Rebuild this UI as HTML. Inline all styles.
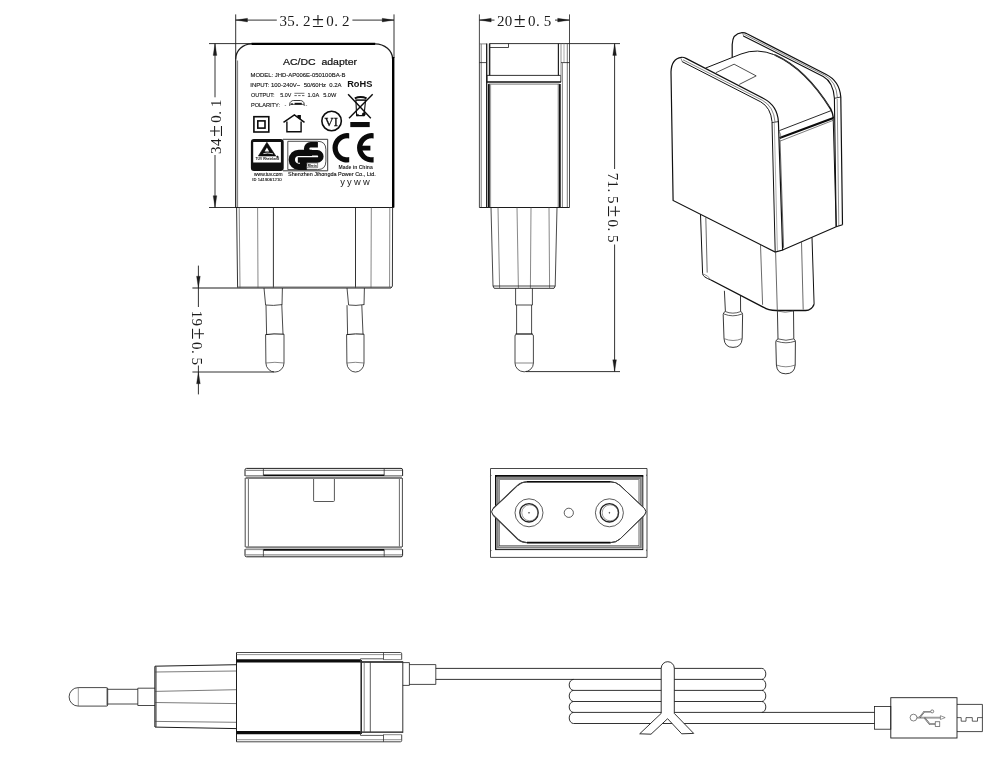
<!DOCTYPE html>
<html lang="en"><head><meta charset="utf-8"><title>AC/DC adapter drawing</title>
<style>
html,body{margin:0;padding:0;background:#fff;}
body{width:1000px;height:779px;overflow:hidden;font-family:"Liberation Sans",sans-serif;}
svg{display:block;will-change:transform;}
svg line,svg path,svg rect,svg circle{stroke-linecap:butt;stroke-linejoin:miter;}
</style></head><body>
<svg width="1000" height="779" viewBox="0 0 1000 779">
<rect x="0" y="0" width="1000" height="779" fill="#fff" stroke="none"/>
<line x1="235.7" y1="14.4" x2="235.7" y2="59" stroke="#1c1c1c" stroke-width="0.9"/>
<line x1="394" y1="14.4" x2="394" y2="58" stroke="#1c1c1c" stroke-width="0.9"/>
<line x1="235.7" y1="20.1" x2="276.8" y2="20.1" stroke="#1c1c1c" stroke-width="0.9"/>
<line x1="352.4" y1="20.1" x2="394" y2="20.1" stroke="#1c1c1c" stroke-width="0.9"/>
<path d="M235.7,20.1 L247.5,18.25 L247.5,21.95 Z" fill="#1c1c1c" stroke="#1c1c1c" stroke-width="0.3"/>
<path d="M394,20.1 L382.2,21.95 L382.2,18.25 Z" fill="#1c1c1c" stroke="#1c1c1c" stroke-width="0.3"/>
<text transform="translate(279.2,26.4) rotate(0)" x="0.3 8.1 16.1 23.7 32.8 47.1 55.1 62.7" y="0" font-family='"Liberation Serif", serif' font-size="15" fill="#1c1c1c">35.2<tspan font-size="21.8" dy="0.6">±</tspan><tspan dy="-0.6">0.2</tspan></text>
<line x1="209" y1="43.6" x2="252" y2="43.6" stroke="#1c1c1c" stroke-width="0.9"/>
<line x1="209" y1="207.5" x2="236" y2="207.5" stroke="#1c1c1c" stroke-width="0.9"/>
<line x1="215" y1="43.6" x2="215" y2="97.3" stroke="#1c1c1c" stroke-width="0.9"/>
<line x1="215" y1="155" x2="215" y2="207.5" stroke="#1c1c1c" stroke-width="0.9"/>
<path d="M215,43.6 L216.85,55.4 L213.15,55.4 Z" fill="#1c1c1c" stroke="#1c1c1c" stroke-width="0.3"/>
<path d="M215,207.5 L213.15,195.7 L216.85,195.7 Z" fill="#1c1c1c" stroke="#1c1c1c" stroke-width="0.3"/>
<text transform="translate(221.2,154.2) rotate(-90)" x="0.3 8.1 17.2 31.5 39.5 47.1" y="0" font-family='"Liberation Serif", serif' font-size="15" fill="#1c1c1c">34<tspan font-size="21.8" dy="0.6">±</tspan><tspan dy="-0.6">0.1</tspan></text>
<path d="M235.7,207.5 V59 A16,15.2 0 0 1 251.7,43.8" fill="none" stroke="#1c1c1c" stroke-width="1.2"/>
<path d="M251.5,43.9 H375.2" fill="none" stroke="#000" stroke-width="2.2"/>
<path d="M375,43.8 A17.6,15.2 0 0 1 392.6,59" fill="none" stroke="#1c1c1c" stroke-width="1.3"/>
<path d="M393.2,57 V207.5" fill="none" stroke="#000" stroke-width="2.4"/>
<line x1="237.6" y1="60.5" x2="237.6" y2="207.5" stroke="#555" stroke-width="0.8"/>
<line x1="235.7" y1="207.5" x2="393.8" y2="207.5" stroke="#1c1c1c" stroke-width="1.0"/>
<line x1="236.6" y1="207.5" x2="237.6" y2="287.6" stroke="#1c1c1c" stroke-width="0.9"/>
<line x1="239.2" y1="207.5" x2="240" y2="287.6" stroke="#555" stroke-width="0.7"/>
<line x1="257.6" y1="207.5" x2="258" y2="287.6" stroke="#555" stroke-width="0.7"/>
<line x1="273.4" y1="207.5" x2="273.4" y2="287.6" stroke="#1c1c1c" stroke-width="0.9"/>
<line x1="355.5" y1="207.5" x2="355.5" y2="287.6" stroke="#1c1c1c" stroke-width="0.9"/>
<line x1="371.3" y1="207.5" x2="371" y2="287.6" stroke="#555" stroke-width="0.7"/>
<line x1="389.8" y1="207.5" x2="389.6" y2="287" stroke="#555" stroke-width="0.7"/>
<line x1="392.6" y1="207.5" x2="392.4" y2="286" stroke="#1c1c1c" stroke-width="0.9"/>
<line x1="237.6" y1="287" x2="391" y2="287" stroke="#555" stroke-width="0.8"/>
<path d="M192.4,288 H391 L392.4,286" fill="none" stroke="#1c1c1c" stroke-width="1.0"/>
<path d="M264,288 L265.6,305 M282.4,288 L282,305" fill="none" stroke="#1c1c1c" stroke-width="0.8"/>
<path d="M265.6,305 Q273.2,306 282,304.6" fill="none" stroke="#1c1c1c" stroke-width="0.8"/>
<path d="M266,305.2 L266.6,334.4 M281.8,305 L283,334.2" fill="none" stroke="#1c1c1c" stroke-width="0.8"/>
<path d="M265.6,334.6 Q273.2,333.4 284,334.2" fill="none" stroke="#1c1c1c" stroke-width="1.0"/>
<path d="M265.6,334.6 L265.9,363 A9,9 0 0 0 284,363 L284,334.2" fill="none" stroke="#1c1c1c" stroke-width="0.8"/>
<path d="M265.9,363 Q274.8,361.6 284,363" fill="none" stroke="#555" stroke-width="0.7"/>
<path d="M347,288 L348.6,305 M364.4,288 L364,305" fill="none" stroke="#1c1c1c" stroke-width="0.8"/>
<path d="M348.6,305 Q355.7,306 364,304.6" fill="none" stroke="#1c1c1c" stroke-width="0.8"/>
<path d="M347,305.2 L347.6,334.4 M361.8,305 L363,334.2" fill="none" stroke="#1c1c1c" stroke-width="0.8"/>
<path d="M346.6,334.6 Q355.7,333.4 364,334.2" fill="none" stroke="#1c1c1c" stroke-width="1.0"/>
<path d="M346.6,334.6 L346.9,363 A8.5,9 0 0 0 364,363 L364,334.2" fill="none" stroke="#1c1c1c" stroke-width="0.8"/>
<path d="M346.9,363 Q355.3,361.6 364,363" fill="none" stroke="#555" stroke-width="0.7"/>
<line x1="198.4" y1="265.6" x2="198.4" y2="307" stroke="#1c1c1c" stroke-width="0.9"/>
<line x1="198.4" y1="365.5" x2="198.4" y2="394.4" stroke="#1c1c1c" stroke-width="0.9"/>
<path d="M198.4,288 L196.55,276.2 L200.25,276.2 Z" fill="#1c1c1c" stroke="#1c1c1c" stroke-width="0.3"/>
<path d="M198.4,372 L200.25,383.8 L196.55,383.8 Z" fill="#1c1c1c" stroke="#1c1c1c" stroke-width="0.3"/>
<line x1="192.4" y1="372" x2="274" y2="372" stroke="#1c1c1c" stroke-width="0.9"/>
<text transform="translate(192.2,310.5) rotate(90)" x="0.3 8.1 17.2 31.5 39.5 47.1" y="0" font-family='"Liberation Serif", serif' font-size="15" fill="#1c1c1c">19<tspan font-size="21.8" dy="0.6">±</tspan><tspan dy="-0.6">0.5</tspan></text>
<text x="282.9" y="65.1" font-family='"Liberation Sans", sans-serif' font-size="9.9" font-weight="normal" text-anchor="start" fill="#111" textLength="74.2" lengthAdjust="spacingAndGlyphs" stroke="#111" stroke-width="0.22">AC/DC&#160;&#160;adapter</text>
<text x="250.5" y="76.6" font-family='"Liberation Sans", sans-serif' font-size="5.3" font-weight="normal" text-anchor="start" fill="#151515" textLength="95" lengthAdjust="spacingAndGlyphs" stroke="#151515" stroke-width="0.12">MODEL: JHD-AP006E-050100BA-B</text>
<text x="250.3" y="86.7" font-family='"Liberation Sans", sans-serif' font-size="5.5" font-weight="normal" text-anchor="start" fill="#151515" textLength="91.3" lengthAdjust="spacingAndGlyphs" stroke="#151515" stroke-width="0.12">INPUT: 100-240V~&#160;&#160;50/60Hz&#160;&#160;0.2A</text>
<text x="347.2" y="86.7" font-family='"Liberation Sans", sans-serif' font-size="9.6" font-weight="bold" text-anchor="start" fill="#111" textLength="25.2" lengthAdjust="spacingAndGlyphs">RoHS</text>
<text x="250.9" y="96.5" font-family='"Liberation Sans", sans-serif' font-size="5.5" font-weight="normal" text-anchor="start" fill="#151515" textLength="23.6" lengthAdjust="spacingAndGlyphs" stroke="#151515" stroke-width="0.12">OUTPUT:</text>
<text x="280.3" y="96.5" font-family='"Liberation Sans", sans-serif' font-size="5.5" font-weight="normal" text-anchor="start" fill="#151515" textLength="11" lengthAdjust="spacingAndGlyphs" stroke="#151515" stroke-width="0.12">5.0V</text>
<line x1="294.4" y1="93.3" x2="304.4" y2="93.3" stroke="#333" stroke-width="0.7"/>
<line x1="294.4" y1="95.6" x2="304.4" y2="95.6" stroke="#333" stroke-width="0.8" stroke-dasharray="2.4 1.4"/>
<text x="307.6" y="96.5" font-family='"Liberation Sans", sans-serif' font-size="5.5" font-weight="normal" text-anchor="start" fill="#151515" textLength="11.6" lengthAdjust="spacingAndGlyphs" stroke="#151515" stroke-width="0.12">1.0A</text>
<text x="323.2" y="96.5" font-family='"Liberation Sans", sans-serif' font-size="5.5" font-weight="normal" text-anchor="start" fill="#151515" textLength="13.1" lengthAdjust="spacingAndGlyphs" stroke="#151515" stroke-width="0.12">5.0W</text>
<text x="250.9" y="106.7" font-family='"Liberation Sans", sans-serif' font-size="5.5" font-weight="normal" text-anchor="start" fill="#151515" textLength="29.2" lengthAdjust="spacingAndGlyphs" stroke="#151515" stroke-width="0.12">POLARITY:</text>
<text x="284.5" y="106.7" font-family='"Liberation Sans", sans-serif' font-size="5.5" font-weight="normal" text-anchor="start" fill="#222">-</text>
<text x="305.6" y="106.7" font-family='"Liberation Sans", sans-serif' font-size="5.5" font-weight="normal" text-anchor="start" fill="#222">-</text>
<path d="M289.7,105.9 V104.2 Q289.7,102.4 291.3,101.3 Q292.3,100.5 293.6,100.5 H300.4 Q301.7,100.5 302.7,101.3 Q304.2,102.4 304.2,104.2 V105.9" fill="none" stroke="#222" stroke-width="0.9"/>
<line x1="294.6" y1="103.8" x2="301.8" y2="103.8" stroke="#111" stroke-width="2.0"/>
<line x1="290.2" y1="104.4" x2="304" y2="104.4" stroke="#333" stroke-width="0.8"/>
<circle cx="292" cy="104" r="0.7" fill="#111" stroke="#111" stroke-width="0.4"/>
<rect x="253.9" y="116.7" width="14.9" height="15.3" rx="0" fill="none" stroke="#0c0c0c" stroke-width="1.6"/>
<rect x="257.8" y="120.9" width="7.2" height="7.2" rx="0" fill="none" stroke="#0c0c0c" stroke-width="1.6"/>
<path d="M283.5,122.4 L294.4,115 L304.5,122.4" fill="none" stroke="#0c0c0c" stroke-width="1.5"/>
<path d="M286.9,121.6 V131.7 H301.1 V121.6" fill="none" stroke="#0c0c0c" stroke-width="1.4"/>
<path d="M297.4,115 H300.9 V119.9 L297.4,117.2 Z" fill="#0c0c0c" stroke="none"/>
<circle cx="331.6" cy="121" r="9.75" fill="none" stroke="#0c0c0c" stroke-width="1.6"/>
<text x="324.5" y="125.5" font-family='"Liberation Serif", serif' font-size="13.4" font-weight="normal" text-anchor="start" fill="#0c0c0c" textLength="13.4" lengthAdjust="spacingAndGlyphs" stroke="#0c0c0c" stroke-width="0.3">VI</text>
<line x1="348.1" y1="94.2" x2="370.8" y2="118.2" stroke="#0c0c0c" stroke-width="1.4"/>
<line x1="372.7" y1="94.2" x2="349" y2="118.2" stroke="#0c0c0c" stroke-width="1.4"/>
<path d="M354.8,98.4 Q360.7,95.6 366.6,98.4" fill="none" stroke="#0c0c0c" stroke-width="1.9"/>
<path d="M355.9,100 L356.6,115.6 H364 L365.6,100 Z" fill="none" stroke="#0c0c0c" stroke-width="1.1"/>
<line x1="355.6" y1="100.2" x2="366" y2="100.2" stroke="#0c0c0c" stroke-width="1.0"/>
<circle cx="363.8" cy="114.2" r="1.5" fill="#0c0c0c" stroke="#0c0c0c" stroke-width="0.6"/>
<circle cx="357.8" cy="115" r="0.8" fill="#0c0c0c" stroke="#0c0c0c" stroke-width="0.5"/>
<rect x="350.3" y="122" width="19.4" height="5.1" rx="0" fill="#0c0c0c" stroke="none" stroke-width="0"/>
<path fill-rule="evenodd" d="M253.9,138.9 H280.7 Q283.7,138.9 283.7,141.9 V168 Q283.7,171 280.7,171 H253.9 Q250.9,171 250.9,168 V141.9 Q250.9,138.9 253.9,138.9 Z M253.2,142 V162.6 H280.9 V142 Z" fill="#111" stroke="none"/>
<path d="M266.9,142.3 L258.4,156 H275.8 Z" fill="#0c0c0c" stroke="#0c0c0c" stroke-width="0.6" stroke-linejoin="round"/>
<path d="M266.9,147.4 L264.6,151.4 H269.2 Z" fill="#fff" stroke="none"/>
<path d="M263.4,153.6 Q267,152.4 273,153.8" fill="none" stroke="#fff" stroke-width="0.8"/>
<circle cx="277.4" cy="156.8" r="0.9" fill="#111" stroke="#111" stroke-width="0.4"/>
<text x="255.6" y="160.4" font-family='"Liberation Sans", sans-serif' font-size="3.3" font-weight="bold" text-anchor="start" fill="#111" textLength="23.6" lengthAdjust="spacingAndGlyphs">TÜV Rheinland</text>
<path d="M283,139.3 H327.7 V170.8 H283" fill="none" stroke="#222" stroke-width="0.9"/>
<path d="M287.8,141.3 H317.5 Q325.9,141.3 325.9,149.6 V161.2 Q325.9,169.6 317.5,169.6 H287.8 Z" fill="none" stroke="#222" stroke-width="0.8"/>
<path d="M312,152.8 H298.8 A7,7 0 0 0 298.8,166.8 H306.8" fill="none" stroke="#0c0c0c" stroke-width="6.3"/>
<path d="M317.9,144.8 H310.6 A4,4 0 0 0 310.6,152.8 H317.3 A3.6,3.6 0 0 1 317.3,160 H297.8" fill="none" stroke="#0c0c0c" stroke-width="5.4"/>
<rect x="300" y="161" width="6.8" height="5" fill="#0c0c0c" stroke="none"/>
<path d="M306.9,163 H317.6 V167.7 H306.9 Z" fill="#fff" stroke="#222" stroke-width="0.5"/>
<text x="307.8" y="166.8" font-family='"Liberation Sans", sans-serif' font-size="2.7" font-weight="bold" text-anchor="start" fill="#111" textLength="9" lengthAdjust="spacingAndGlyphs">Rhein</text>
<path d="M349.2,133.24 A14.7,14.7 0 1 0 349.2,162.36 L349.2,157.09 A9.5,9.5 0 1 1 349.2,138.51 Z" fill="#0a0a0a" stroke="none"/>
<path d="M373.6,133.22 A14.7,14.7 0 1 0 373.6,162.38 L373.6,157.11 A9.5,9.5 0 1 1 373.6,138.49 Z" fill="#0a0a0a" stroke="none"/>
<rect x="362" y="145.7" width="8.4" height="4.8" fill="#0a0a0a" stroke="none"/>
<text x="338.5" y="169.2" font-family='"Liberation Sans", sans-serif' font-size="4.9" font-weight="bold" text-anchor="start" fill="#222" textLength="34.2" lengthAdjust="spacingAndGlyphs">Made in China</text>
<text x="288.1" y="176.2" font-family='"Liberation Sans", sans-serif' font-size="5.0" font-weight="normal" text-anchor="start" fill="#151515" textLength="87.8" lengthAdjust="spacingAndGlyphs" stroke="#151515" stroke-width="0.12">Shenzhen Jihongda Power Co., Ltd.</text>
<text x="254.1" y="176.2" font-family='"Liberation Sans", sans-serif' font-size="4.6" font-weight="normal" text-anchor="start" fill="#151515" textLength="28.4" lengthAdjust="spacingAndGlyphs" stroke="#151515" stroke-width="0.12">www.tuv.com</text>
<text x="252.3" y="181.1" font-family='"Liberation Sans", sans-serif' font-size="4.4" font-weight="bold" text-anchor="start" fill="#111" textLength="4.2" lengthAdjust="spacingAndGlyphs">ID</text>
<text x="257.8" y="181.1" font-family='"Liberation Sans", sans-serif' font-size="4.4" font-weight="normal" text-anchor="start" fill="#151515" textLength="23.9" lengthAdjust="spacingAndGlyphs" stroke="#151515" stroke-width="0.12">1419061210</text>
<text x="340.2" y="184.6" font-family='"Liberation Sans", sans-serif' font-size="9.4" fill="#1c1c1c" textLength="29.6" lengthAdjust="spacing">yyww</text>
<line x1="479.4" y1="14.4" x2="479.4" y2="207.5" stroke="#1c1c1c" stroke-width="0.8"/>
<line x1="569.5" y1="14.4" x2="569.5" y2="207.5" stroke="#1c1c1c" stroke-width="0.8"/>
<path d="M479.4,20.1 L491.2,18.25 L491.2,21.95 Z" fill="#1c1c1c" stroke="#1c1c1c" stroke-width="0.3"/>
<path d="M569.5,20.1 L557.7,21.95 L557.7,18.25 Z" fill="#1c1c1c" stroke="#1c1c1c" stroke-width="0.3"/>
<line x1="479.4" y1="20.1" x2="494.5" y2="20.1" stroke="#1c1c1c" stroke-width="0.9"/>
<line x1="555" y1="20.1" x2="569.5" y2="20.1" stroke="#1c1c1c" stroke-width="0.9"/>
<text transform="translate(496.6,26.4) rotate(0)" x="0.3 8.1 17.2 31.5 39.5 47.1" y="0" font-family='"Liberation Serif", serif' font-size="15" fill="#1c1c1c">20<tspan font-size="21.8" dy="0.6">±</tspan><tspan dy="-0.6">0.5</tspan></text>
<line x1="489.3" y1="43.6" x2="620" y2="43.6" stroke="#1c1c1c" stroke-width="0.9"/>
<line x1="479.4" y1="43.9" x2="486.6" y2="43.9" stroke="#555" stroke-width="0.7"/>
<line x1="481.2" y1="44" x2="481.2" y2="207.5" stroke="#777" stroke-width="1.0"/>
<line x1="479.4" y1="62.6" x2="486.6" y2="62.6" stroke="#1c1c1c" stroke-width="0.8"/>
<line x1="486.7" y1="43.6" x2="486.7" y2="207.5" stroke="#1a1a1a" stroke-width="1.3"/>
<line x1="489.6" y1="43.6" x2="489.6" y2="75.5" stroke="#222" stroke-width="1.5"/>
<line x1="488.9" y1="84" x2="488.9" y2="207.5" stroke="#111" stroke-width="1.8"/>
<line x1="490.6" y1="84.5" x2="490.6" y2="207.5" stroke="#555" stroke-width="0.6"/>
<path d="M489.9,47.5 H508.5 V43.6" fill="none" stroke="#1c1c1c" stroke-width="0.8"/>
<line x1="558.4" y1="43.6" x2="558.4" y2="75.4" stroke="#222" stroke-width="1.2"/>
<line x1="561" y1="43.6" x2="561" y2="75.4" stroke="#777" stroke-width="0.8"/>
<line x1="564" y1="43.6" x2="564" y2="62.6" stroke="#888" stroke-width="0.7"/>
<line x1="567.3" y1="44" x2="567.3" y2="207.5" stroke="#666" stroke-width="0.9"/>
<line x1="561" y1="62.6" x2="569.5" y2="62.6" stroke="#1c1c1c" stroke-width="0.8"/>
<line x1="558.2" y1="84" x2="558.2" y2="207.5" stroke="#555" stroke-width="0.7"/>
<line x1="559.8" y1="84" x2="559.8" y2="207.5" stroke="#151515" stroke-width="1.9"/>
<line x1="562.4" y1="62.6" x2="562.4" y2="207.5" stroke="#777" stroke-width="0.9"/>
<line x1="487" y1="75.4" x2="560.6" y2="75.4" stroke="#1c1c1c" stroke-width="0.9"/>
<line x1="486.6" y1="82" x2="561" y2="82" stroke="#111" stroke-width="1.5"/>
<line x1="488.5" y1="84.1" x2="559.5" y2="84.1" stroke="#555" stroke-width="0.8"/>
<line x1="487" y1="75.4" x2="487" y2="82" stroke="#1c1c1c" stroke-width="0.8"/>
<line x1="560.8" y1="75.4" x2="560.8" y2="82" stroke="#1c1c1c" stroke-width="0.8"/>
<line x1="479.4" y1="207.5" x2="569.5" y2="207.5" stroke="#1c1c1c" stroke-width="1.0"/>
<line x1="491" y1="207.5" x2="493" y2="286" stroke="#1c1c1c" stroke-width="0.8"/>
<line x1="557" y1="207.5" x2="555.2" y2="286" stroke="#1c1c1c" stroke-width="0.8"/>
<line x1="498" y1="207.5" x2="499.6" y2="288" stroke="#555" stroke-width="0.7"/>
<line x1="517" y1="207.5" x2="518.4" y2="288" stroke="#555" stroke-width="0.7"/>
<line x1="531" y1="207.5" x2="530.4" y2="288" stroke="#555" stroke-width="0.7"/>
<line x1="549" y1="207.5" x2="549.6" y2="288" stroke="#555" stroke-width="0.7"/>
<line x1="493" y1="286" x2="555.2" y2="286" stroke="#1c1c1c" stroke-width="0.8"/>
<path d="M493,286 L494.2,288.3 H554 L555.2,286" fill="none" stroke="#1c1c1c" stroke-width="0.9"/>
<path d="M515.6,288.3 V305 H532.4 V288.3" fill="none" stroke="#1c1c1c" stroke-width="0.8"/>
<path d="M516.6,305 V334 M531.6,305 V334" fill="none" stroke="#1c1c1c" stroke-width="0.8"/>
<line x1="515.6" y1="334" x2="532.6" y2="334" stroke="#1c1c1c" stroke-width="1.3"/>
<path d="M516.2,334.4 Q515,334.6 515,336 V363 A9.2,8.8 0 0 0 533.4,363 V336 Q533.4,334.6 532.2,334.4" fill="none" stroke="#1c1c1c" stroke-width="0.8"/>
<line x1="515" y1="363" x2="533.4" y2="363" stroke="#555" stroke-width="0.7"/>
<line x1="614.6" y1="43.6" x2="614.6" y2="169" stroke="#1c1c1c" stroke-width="0.9"/>
<line x1="614.6" y1="244.5" x2="614.6" y2="371.6" stroke="#1c1c1c" stroke-width="0.9"/>
<path d="M614.6,43.6 L616.45,55.4 L612.75,55.4 Z" fill="#1c1c1c" stroke="#1c1c1c" stroke-width="0.3"/>
<path d="M614.6,371.6 L612.75,359.8 L616.45,359.8 Z" fill="#1c1c1c" stroke="#1c1c1c" stroke-width="0.3"/>
<line x1="526" y1="371.6" x2="620" y2="371.6" stroke="#1c1c1c" stroke-width="0.9"/>
<text transform="translate(608.4,172.4) rotate(90)" x="0.3 8.1 16.1 23.7 32.8 47.1 55.1 62.7" y="0" font-family='"Liberation Serif", serif' font-size="15" fill="#1c1c1c">71.5<tspan font-size="21.8" dy="0.6">±</tspan><tspan dy="-0.6">0.5</tspan></text>
<path d="M732.2,57 V44.5 Q732.4,33.5 742,32.6 Q744.6,32.4 747,33.8 L825.8,74.2 Q839.6,81 840.8,97 L842.5,224.7" fill="none" stroke="#111" stroke-width="1.2"/>
<path d="M743.3,35.9 L823.2,76.4 Q833.4,82 834.4,98.3 L836.2,226.8" fill="none" stroke="#111" stroke-width="1.1"/>
<path d="M744.4,34.4 L824.6,75.2 Q836.4,81.4 837.4,97.6" fill="none" stroke="#555" stroke-width="0.7"/>
<line x1="834.4" y1="98.3" x2="840.8" y2="97" stroke="#111" stroke-width="0.8"/>
<line x1="837.2" y1="99" x2="838.8" y2="226" stroke="#666" stroke-width="0.7"/>
<line x1="742.6" y1="32.8" x2="743.6" y2="36" stroke="#555" stroke-width="0.7"/>
<path d="M705.5,68.1 L741,54 Q757,47.6 775,55" fill="none" stroke="#111" stroke-width="1.0"/>
<path d="M775,55 Q806,69 831,109.5 Q832.8,113 833.4,118.4" fill="none" stroke="#111" stroke-width="1.5"/>
<path d="M772,53.8 Q803,66 829.5,107" fill="none" stroke="#555" stroke-width="0.7"/>
<path d="M715.9,72.7 L734.1,64.2 L756.2,75.9 L739.3,84.4" fill="none" stroke="#222" stroke-width="0.8"/>
<path d="M779.4,130.6 L831.2,110.6" fill="none" stroke="#111" stroke-width="0.9"/>
<path d="M779.6,138 L833.4,118" fill="none" stroke="#0a0a0a" stroke-width="2.1"/>
<path d="M780.3,141 L833,120.4" fill="none" stroke="#444" stroke-width="0.7"/>
<path d="M780,139.5 L783.6,247.8" fill="none" stroke="#444" stroke-width="0.8"/>
<path d="M833.2,118.5 L836.2,226.8" fill="none" stroke="#111" stroke-width="1.0"/>
<path d="M782.6,250 L836.2,226.8 L842.5,224.7" fill="none" stroke="#111" stroke-width="1.1"/>
<path d="M673.1,200.5 L671,72 Q671.4,58.6 681.5,57.3 Q683.6,57.1 686,58.4 L764,98.7 Q777.4,105.8 778.4,121.6 L782.6,250 L775.2,252 Z" fill="#fff" stroke="#111" stroke-width="1.2"/>
<path d="M682.1,61.6 L760.8,101.9 Q770.8,107.6 772,121.6 L775.2,252" fill="none" stroke="#111" stroke-width="1.0"/>
<path d="M683,59.8 L762.4,100.3 Q773.8,106.6 775,121.9" fill="none" stroke="#555" stroke-width="0.7"/>
<path d="M774.3,123 L777.4,251" fill="none" stroke="#777" stroke-width="0.6"/>
<line x1="772" y1="122.6" x2="778.4" y2="121.6" stroke="#111" stroke-width="0.8"/>
<line x1="681" y1="58.4" x2="682.3" y2="61.8" stroke="#555" stroke-width="0.7"/>
<path d="M779,131 Q781,134 781,138" fill="none" stroke="#555" stroke-width="0.7"/>
<path d="M700.5,214.4 L702.6,273.7 Q702.8,277 711,280" fill="none" stroke="#111" stroke-width="1.0"/>
<path d="M711,280 L763.6,307.3 Q768,310.5 776.3,310.5 H805.7 Q811.6,310.4 814.1,304.2" fill="none" stroke="#111" stroke-width="1.4"/>
<path d="M814.1,304.2 L812,237.4" fill="none" stroke="#111" stroke-width="1.0"/>
<path d="M705.8,217.3 L707.2,272.6" fill="none" stroke="#444" stroke-width="0.8"/>
<path d="M760.5,244.7 L762.6,304.8" fill="none" stroke="#444" stroke-width="0.8"/>
<path d="M775.6,252 L777.3,310.5" fill="none" stroke="#444" stroke-width="0.8"/>
<path d="M801.5,241.5 L803.2,309.6" fill="none" stroke="#444" stroke-width="0.8"/>
<path d="M702.6,273.7 Q708,275 711,280" fill="none" stroke="#555" stroke-width="0.6"/>
<path d="M724.4,290.8 L725.4,311.5 M740.5,296 L740.6,311.5" fill="none" stroke="#222" stroke-width="0.9"/>
<path d="M725.2,311.5 Q732.8,314.8 740.8,311.5 M724,314 Q732.6,317.6 742,314" fill="none" stroke="#333" stroke-width="0.8"/>
<path d="M725.2,311.5 Q723.2,312.4 723.2,314.6 L724,338.6 Q724.6,347.4 733,347.4 Q741.6,347.4 742.2,338.6 L742.6,314.6 Q742.6,312.4 740.8,311.5" fill="none" stroke="#222" stroke-width="0.9"/>
<path d="M724,338.6 Q733,342.4 742.2,338.6" fill="none" stroke="#555" stroke-width="0.7"/>
<path d="M777.4,310.6 L778,338.9 M793.5,310.6 L793.8,338.9" fill="none" stroke="#222" stroke-width="0.9"/>
<path d="M777.4,311 Q785,313.6 793.5,311" fill="none" stroke="#555" stroke-width="0.7"/>
<path d="M778,338.9 Q786,341.6 793.8,338.9 M776.6,341.2 Q786,344.4 795.2,341.2" fill="none" stroke="#333" stroke-width="0.8"/>
<path d="M778,338.9 Q775.8,339.8 775.8,342 L776.4,365 Q777,373.8 785.8,373.8 Q794.6,373.8 795.2,365 L795.4,342 Q795.4,339.8 793.8,338.9" fill="none" stroke="#222" stroke-width="0.9"/>
<path d="M776.4,365 Q786,368.6 795.2,365" fill="none" stroke="#555" stroke-width="0.7"/>
<path d="M245,476 V469.9 Q245,468.4 246.6,468.4 H401 Q402.6,468.4 402.6,469.9 V476" fill="none" stroke="#222" stroke-width="1.0"/>
<line x1="245.6" y1="470.3" x2="402" y2="470.3" stroke="#666" stroke-width="0.9"/>
<line x1="263.4" y1="468.4" x2="263.4" y2="476" stroke="#333" stroke-width="0.8"/>
<line x1="384.2" y1="468.4" x2="384.2" y2="476" stroke="#333" stroke-width="0.8"/>
<line x1="263.4" y1="475.3" x2="384.2" y2="475.3" stroke="#0c0c0c" stroke-width="1.6"/>
<line x1="245" y1="475.6" x2="263.4" y2="475.6" stroke="#555" stroke-width="0.7"/>
<line x1="384.2" y1="475.6" x2="402.6" y2="475.6" stroke="#555" stroke-width="0.7"/>
<line x1="245.6" y1="477.8" x2="402" y2="477.8" stroke="#808080" stroke-width="2.4"/>
<path d="M245,549.2 V555.3 Q245,556.8 246.6,556.8 H401 Q402.6,556.8 402.6,555.3 V549.2" fill="none" stroke="#222" stroke-width="1.0"/>
<line x1="245.6" y1="554.9" x2="402" y2="554.9" stroke="#666" stroke-width="0.9"/>
<line x1="263.4" y1="556.8" x2="263.4" y2="549.2" stroke="#333" stroke-width="0.8"/>
<line x1="384.2" y1="556.8" x2="384.2" y2="549.2" stroke="#333" stroke-width="0.8"/>
<line x1="263.4" y1="549.9" x2="384.2" y2="549.9" stroke="#0c0c0c" stroke-width="1.6"/>
<line x1="245" y1="549.6" x2="263.4" y2="549.6" stroke="#555" stroke-width="0.7"/>
<line x1="384.2" y1="549.6" x2="402.6" y2="549.6" stroke="#555" stroke-width="0.7"/>
<line x1="245.6" y1="547.4" x2="402" y2="547.4" stroke="#808080" stroke-width="2.4"/>
<line x1="245.2" y1="478" x2="245.2" y2="547" stroke="#333" stroke-width="0.9"/>
<line x1="248.4" y1="479" x2="248.4" y2="546.4" stroke="#444" stroke-width="0.8"/>
<line x1="399.4" y1="479" x2="399.4" y2="546.4" stroke="#444" stroke-width="0.8"/>
<line x1="402.4" y1="478" x2="402.4" y2="547" stroke="#333" stroke-width="0.9"/>
<path d="M313.6,479 V500.6 Q313.6,501.5 314.6,501.5 H333.4 Q334.4,501.5 334.4,500.6 V479" fill="none" stroke="#444" stroke-width="0.9"/>
<path d="M490.5,468.5 H647 V557.4 H490.5 Z" fill="none" stroke="#333" stroke-width="0.9"/>
<rect x="495.6" y="475.8" width="147.2" height="73.8" rx="0" fill="none" stroke="#161616" stroke-width="1.0"/>
<line x1="495" y1="475.9" x2="643.2" y2="475.9" stroke="#0c0c0c" stroke-width="1.7"/>
<line x1="495.7" y1="475.8" x2="495.7" y2="549.6" stroke="#0c0c0c" stroke-width="1.4"/>
<rect x="497.7" y="478" width="143" height="69.4" rx="0" fill="none" stroke="#858585" stroke-width="2.2"/>
<rect x="499.5" y="479.7" width="139.4" height="66" rx="0" fill="none" stroke="#444" stroke-width="0.6"/>
<path d="M490.5,474.5 l0.8,0.8 l-0.8,0.8 M490.5,549.5 l0.8,0.8 l-0.8,0.8 M647,474.5 l-0.8,0.8 l0.8,0.8 M647,549.5 l-0.8,0.8 l0.8,0.8" fill="none" stroke="#333" stroke-width="0.6"/>
<path d="M527,481.8 H610.6 Q616,481.8 620,485.4 L644.6,508.6 Q647.4,511.8 644.6,515 L620,539 Q616,542.6 610.6,542.6 H527 Q521.6,542.6 517.6,539 L493,515 Q490.2,511.8 493,508.6 L517.6,485.4 Q521.6,481.8 527,481.8 Z" fill="#fff" stroke="#222" stroke-width="1.0"/>
<line x1="527" y1="481.8" x2="610.6" y2="481.8" stroke="#0c0c0c" stroke-width="1.6"/>
<line x1="527" y1="542.6" x2="610.6" y2="542.6" stroke="#0c0c0c" stroke-width="1.6"/>
<path d="M527,481.8 Q521.6,481.8 517.6,485.4 L493,508.6" fill="none" stroke="#444" stroke-width="1.3"/>
<path d="M493,515 L517.6,539 Q521.6,542.6 527,542.6" fill="none" stroke="#444" stroke-width="1.3"/>
<path d="M610.6,481.8 Q616,481.8 620,485.4 L644.6,508.6" fill="none" stroke="#444" stroke-width="1.0"/>
<path d="M644.6,515 L620,539 Q616,542.6 610.6,542.6" fill="none" stroke="#444" stroke-width="1.0"/>
<circle cx="529" cy="512.8" r="14" fill="none" stroke="#333" stroke-width="0.8"/>
<circle cx="529" cy="512.8" r="9.2" fill="none" stroke="#222" stroke-width="1.3"/>
<circle cx="529.8" cy="512.8" r="8" fill="none" stroke="#555" stroke-width="0.6"/>
<circle cx="529" cy="512.8" r="0.5" fill="#222" stroke="#222" stroke-width="0.4"/>
<circle cx="609.4" cy="512.8" r="14" fill="none" stroke="#333" stroke-width="0.8"/>
<circle cx="609.4" cy="512.8" r="9.2" fill="none" stroke="#222" stroke-width="1.3"/>
<circle cx="610.2" cy="512.8" r="8" fill="none" stroke="#555" stroke-width="0.6"/>
<circle cx="609.4" cy="512.8" r="0.5" fill="#222" stroke="#222" stroke-width="0.4"/>
<circle cx="568.8" cy="512.8" r="4.6" fill="none" stroke="#333" stroke-width="0.8"/>
<path d="M78.3,687.6 A9.2,9.25 0 0 0 78.3,706.1" fill="none" stroke="#1c1c1c" stroke-width="0.8"/>
<line x1="78.3" y1="687.6" x2="78.3" y2="706.1" stroke="#555" stroke-width="0.6"/>
<path d="M78.3,687.6 H106.6 Q107.7,687.6 107.7,688.8 V704.9 Q107.7,706.1 106.6,706.1 H78.3" fill="none" stroke="#1c1c1c" stroke-width="0.8"/>
<line x1="107.2" y1="688" x2="107.2" y2="705.6" stroke="#444" stroke-width="1.2"/>
<path d="M107.7,689.3 H137.8 M107.7,704 H137.8" fill="none" stroke="#1c1c1c" stroke-width="0.8"/>
<path d="M137.8,688.2 H155 M137.8,705.5 H155 M137.8,688.2 V705.5" fill="none" stroke="#1c1c1c" stroke-width="0.8"/>
<path d="M155,666.2 L236.5,664.7 M155,727.1 L236.5,728.6" fill="none" stroke="#1c1c1c" stroke-width="1.0"/>
<line x1="155" y1="666.2" x2="155" y2="727.1" stroke="#1c1c1c" stroke-width="1.3"/>
<line x1="156.5" y1="666.4" x2="156.5" y2="727" stroke="#555" stroke-width="0.6"/>
<line x1="155" y1="672" x2="236.5" y2="671" stroke="#444" stroke-width="0.7"/>
<line x1="155" y1="691.4" x2="236.5" y2="689.7" stroke="#444" stroke-width="0.7"/>
<line x1="155" y1="702.5" x2="236.5" y2="703.6" stroke="#444" stroke-width="0.7"/>
<line x1="155" y1="721.4" x2="236.5" y2="722.3" stroke="#444" stroke-width="0.7"/>
<line x1="236.5" y1="652.5" x2="236.5" y2="741.8" stroke="#1c1c1c" stroke-width="1.0"/>
<path d="M236.5,652.5 H400.4 Q401.7,652.5 401.7,653.8 V659.6 M236.5,741.8 H400.4 Q401.7,741.8 401.7,740.5 V734.7" fill="none" stroke="#333" stroke-width="0.9"/>
<line x1="236.5" y1="654.6" x2="401.7" y2="654.6" stroke="#666" stroke-width="0.7"/>
<line x1="236.5" y1="739.7" x2="401.7" y2="739.7" stroke="#666" stroke-width="0.7"/>
<line x1="236.5" y1="660.9" x2="360.5" y2="660.9" stroke="#0c0c0c" stroke-width="3.2"/>
<line x1="236.5" y1="732.6" x2="360.5" y2="732.6" stroke="#0c0c0c" stroke-width="3.3"/>
<path d="M360.5,662.6 V658.8 H383.5 M360.5,731.6 V735.4 H383.5" fill="none" stroke="#333" stroke-width="0.8"/>
<line x1="383.5" y1="652.5" x2="383.5" y2="659.8" stroke="#333" stroke-width="0.8"/>
<line x1="383.5" y1="734.5" x2="383.5" y2="741.8" stroke="#333" stroke-width="0.8"/>
<line x1="383.5" y1="659.6" x2="401.7" y2="659.6" stroke="#555" stroke-width="0.7"/>
<line x1="383.5" y1="734.7" x2="401.7" y2="734.7" stroke="#555" stroke-width="0.7"/>
<line x1="362" y1="662" x2="402.8" y2="662" stroke="#111" stroke-width="1.3"/>
<line x1="362" y1="732.2" x2="402.8" y2="732.2" stroke="#111" stroke-width="1.3"/>
<line x1="361.2" y1="660" x2="361.2" y2="734" stroke="#222" stroke-width="1.5"/>
<line x1="364.2" y1="662" x2="364.2" y2="732" stroke="#555" stroke-width="0.7"/>
<line x1="370.3" y1="662" x2="370.3" y2="732" stroke="#333" stroke-width="0.8"/>
<line x1="402.8" y1="661.4" x2="402.8" y2="732.8" stroke="#1c1c1c" stroke-width="0.9"/>
<path d="M402.8,662.6 H409.4 V685.4 H402.8" fill="none" stroke="#1c1c1c" stroke-width="0.8"/>
<path d="M409.4,664.6 H435.8 V684.4 H409.4" fill="none" stroke="#1c1c1c" stroke-width="0.8"/>
<line x1="435.8" y1="668.4" x2="761.8" y2="668.4" stroke="#1c1c1c" stroke-width="0.9"/>
<line x1="435.8" y1="679.4" x2="761.8" y2="679.4" stroke="#1c1c1c" stroke-width="0.9"/>
<line x1="573.6" y1="690.4" x2="761.8" y2="690.4" stroke="#1c1c1c" stroke-width="0.9"/>
<line x1="573.6" y1="701.5" x2="761.8" y2="701.5" stroke="#1c1c1c" stroke-width="0.9"/>
<line x1="573.6" y1="712.4" x2="874.6" y2="712.4" stroke="#1c1c1c" stroke-width="0.9"/>
<line x1="573.6" y1="723.5" x2="874.6" y2="723.5" stroke="#1c1c1c" stroke-width="0.9"/>
<path d="M573.6,679.4 A4.4,5.5 0 0 0 573.6,690.4" fill="none" stroke="#1c1c1c" stroke-width="0.9"/>
<path d="M573.6,690.4 A4.4,5.55 0 0 0 573.6,701.5" fill="none" stroke="#1c1c1c" stroke-width="0.9"/>
<path d="M573.6,701.5 A4.4,5.45 0 0 0 573.6,712.4" fill="none" stroke="#1c1c1c" stroke-width="0.9"/>
<path d="M573.6,712.4 A4.4,5.55 0 0 0 573.6,723.5" fill="none" stroke="#1c1c1c" stroke-width="0.9"/>
<path d="M761.8,668.4 A4,5.5 0 0 1 761.8,679.4" fill="none" stroke="#1c1c1c" stroke-width="0.9"/>
<path d="M761.8,679.4 A4,5.5 0 0 1 761.8,690.4" fill="none" stroke="#1c1c1c" stroke-width="0.9"/>
<path d="M761.8,690.4 A4,5.55 0 0 1 761.8,701.5" fill="none" stroke="#1c1c1c" stroke-width="0.9"/>
<path d="M761.8,701.5 A4,5.45 0 0 1 761.8,712.4" fill="none" stroke="#1c1c1c" stroke-width="0.9"/>
<path d="M661.2,713.4 L639.7,733.8 L651,734.2 L667.6,718.7 L681.7,733.8 L693.7,733.4 L674.3,713.4 V668.3 A6.55,6.6 0 0 0 661.2,668.3 Z" fill="#fff" stroke="#1c1c1c" stroke-width="0.9"/>
<rect x="874.6" y="706.5" width="16.2" height="22.7" rx="0" fill="none" stroke="#1c1c1c" stroke-width="0.8"/>
<rect x="890.8" y="697.7" width="66.2" height="40.3" rx="0" fill="none" stroke="#1c1c1c" stroke-width="0.9"/>
<path d="M957,704.4 H982.4 V731.6 H957" fill="none" stroke="#1c1c1c" stroke-width="0.8"/>
<path d="M957,717.6 H961.2 V721.2 H966 V717.6 H972.3 V721.2 H977.5 V717.6 H982.4" fill="none" stroke="#1c1c1c" stroke-width="0.7"/>
<path d="M916.9,717.6 H941" fill="none" stroke="#444" stroke-width="1.5"/>
<path d="M916.9,717.6 H941" fill="none" stroke="#fff" stroke-width="0.55"/>
<path d="M919.6,717.4 L924.2,711.8 H930.6" fill="none" stroke="#444" stroke-width="1.5"/>
<path d="M919.6,717.4 L924.2,711.8 H930.6" fill="none" stroke="#fff" stroke-width="0.55"/>
<path d="M924.4,717.8 L929.6,724 H935" fill="none" stroke="#444" stroke-width="1.5"/>
<path d="M924.4,717.8 L929.6,724 H935" fill="none" stroke="#fff" stroke-width="0.55"/>
<circle cx="913.5" cy="717.6" r="3.4" fill="#fff" stroke="#333" stroke-width="0.6"/>
<path d="M945.2,717.6 L940.4,715.7 V719.5 Z" fill="#fff" stroke="#333" stroke-width="0.5"/>
<circle cx="932.2" cy="711.4" r="1.5" fill="#fff" stroke="#333" stroke-width="0.6"/>
<rect x="935.2" y="721.8" width="4.6" height="4.6" rx="0" fill="#fff" stroke="#333" stroke-width="0.6"/>
</svg>
</body></html>
